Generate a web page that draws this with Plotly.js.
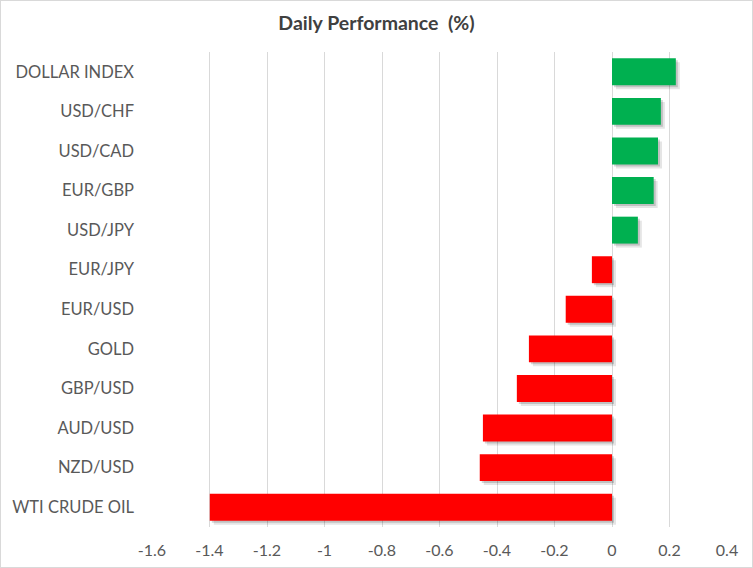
<!DOCTYPE html>
<html>
<head>
<meta charset="utf-8">
<script src="https://cdn.plot.ly/plotly-3.0.1.min.js"></script>
<style>
html,body{margin:0;padding:0;background:#fff;}
#wrap{width:751px;height:566px;border:1px solid #d9d9d9;position:relative;overflow:hidden;}
#chart{position:absolute;left:-1px;top:-1px;width:753px;height:568px;}
</style>
</head>
<body>
<div id="wrap"><div id="chart"></div></div>
<script>
const categories = ["DOLLAR INDEX","USD/CHF","USD/CAD","EUR/GBP","USD/JPY","EUR/JPY","EUR/USD","GOLD","GBP/USD","AUD/USD","NZD/USD","WTI CRUDE OIL"];
const values = [0.222, 0.170, 0.160, 0.145, 0.090, -0.070, -0.161, -0.289, -0.331, -0.449, -0.460, -1.399];
const tickVals = [-1.6,-1.4,-1.2,-1,-0.8,-0.6,-0.4,-0.2,0,0.2,0.4];
const tickText = ["-1.6","-1.4","-1.2","-1","-0.8","-0.6","-0.4","-0.2","0","0.2","0.4"];

const colors = values.map(v => v >= 0 ? "#00B050" : "#FF0000");
const font = "Lato, 'Open Sans', sans-serif";

const pxX = 2.0 / 575.6;   // data units per pixel on x
const pxY = 1 / 39.5;      // category units per pixel on y

function barTrace(color, ax){
  const t = {
    type:"bar", orientation:"h", y:categories, x:values,
    marker:{color:color}, hoverinfo:"skip", showlegend:false
  };
  if (ax) { t.xaxis = "x"+ax; t.yaxis = "y"+ax; }
  return t;
}

const traces = [
  barTrace("rgba(0,0,0,0)", null),
  barTrace("rgba(0,0,0,0.10)", "2"),
  barTrace("rgba(0,0,0,0.16)", "3"),
  barTrace(colors, "4")
];

function shAx(dx){return {overlaying:"x", range:[-1.6 - dx*pxX, 0.4 - dx*pxX], visible:false, showgrid:false, zeroline:false};}
function shAy(dy){return {overlaying:"y", type:"category", categoryarray:categories, categoryorder:"array", range:[11.5 - dy*pxY, -0.5 - dy*pxY], visible:false, showgrid:false};}

const layout = {
  width:753, height:568,
  margin:{l:152, r:26, t:52, b:41, pad:0},
  paper_bgcolor:"#fff", plot_bgcolor:"#fff",
  bargap:0.32,
  title:{text:"<b>Daily Performance  (%)</b>", x:0.5, xref:"container", y:0.96, yref:"container", yanchor:"middle",
         font:{family:font, size:19.5, color:"#404040"}},
  xaxis:{range:[-1.6,0.4], tickvals:tickVals, ticktext:tickText, showgrid:true, gridcolor:"#d9d9d9", gridwidth:1,
         zeroline:false, showline:false, ticks:"", ticklabelstandoff:12, tickfont:{family:font, size:16, color:"#595959"}},
  yaxis:{type:"category", categoryarray:categories, categoryorder:"array", range:[11.5,-0.5], showgrid:false, zeroline:false,
         showline:false, ticks:"", ticklabelstandoff:17, tickfont:{family:font, size:16.5, color:"#595959"}},
  xaxis2:shAx(4), yaxis2:shAy(4),
  xaxis3:shAx(2), yaxis3:shAy(2),
  xaxis4:shAx(0), yaxis4:shAy(0),
  barmode:"overlay"
};

Plotly.newPlot("chart", traces, layout, {displayModeBar:false, staticPlot:true});
</script>
</body>
</html>
